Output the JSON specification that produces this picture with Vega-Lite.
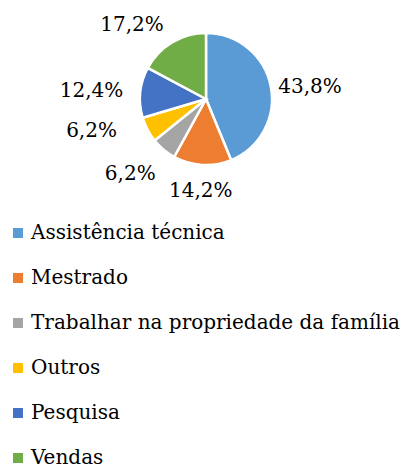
{
  "$schema": "https://vega.github.io/schema/vega-lite/v6.json",
  "width": 412,
  "height": 198,
  "padding": {"left": 0, "top": 0, "right": 1, "bottom": 270},
  "autosize": {"type": "none"},
  "background": "white",
  "config": {"view": {"stroke": null}},
  "data": {"values": [
    {"idx": 1, "cat": "Assistência técnica", "pct": 43.8, "label": "43,8%"},
    {"idx": 2, "cat": "Mestrado", "pct": 14.2, "label": "14,2%"},
    {"idx": 3, "cat": "Trabalhar na propriedade da família", "pct": 6.2, "label": "6,2%"},
    {"idx": 4, "cat": "Outros", "pct": 6.2, "label": "6,2%"},
    {"idx": 5, "cat": "Pesquisa", "pct": 12.4, "label": "12,4%"},
    {"idx": 6, "cat": "Vendas", "pct": 17.2, "label": "17,2%"}
  ]},
  "encoding": {
    "theta": {"field": "pct", "type": "quantitative", "stack": true},
    "order": {"field": "idx", "type": "quantitative", "sort": "ascending"}
  },
  "layer": [
    {
      "mark": {"type": "arc", "outerRadius": 66, "stroke": "white", "strokeWidth": 2.5},
      "encoding": {
        "color": {
          "field": "cat", "type": "nominal",
          "scale": {
            "domain": ["Assistência técnica", "Mestrado", "Trabalhar na propriedade da família", "Outros", "Pesquisa", "Vendas"],
            "range": ["#5B9BD5", "#ED7D31", "#A5A5A5", "#FFC000", "#4472C4", "#70AD47"]
          },
          "legend": {
            "title": null,
            "orient": "none",
            "legendX": 8,
            "legendY": 223,
            "direction": "vertical",
            "padding": 0,
            "symbolType": "square",
            "symbolSize": 100,
            "symbolStrokeWidth": 0,
            "labelFont": "DejaVu Serif",
            "labelFontSize": 20,
            "labelColor": "black",
            "labelOffset": 3,
            "labelLimit": 500,
            "rowPadding": 25
          }
        }
      }
    },
    {
      "mark": {"type": "text", "radius": 106, "dy": 9, "font": "DejaVu Serif", "fontSize": 20, "color": "black"},
      "encoding": {"text": {"condition": {"test": "datum.idx === 1", "field": "label"}, "value": ""}}
    },
    {
      "mark": {"type": "text", "radius": 92, "font": "DejaVu Serif", "fontSize": 20, "color": "black"},
      "encoding": {"text": {"condition": {"test": "datum.idx === 2", "field": "label"}, "value": ""}}
    },
    {
      "mark": {"type": "text", "radius": 107, "dx": -7, "dy": -7, "font": "DejaVu Serif", "fontSize": 20, "color": "black"},
      "encoding": {"text": {"condition": {"test": "datum.idx === 3", "field": "label"}, "value": ""}}
    },
    {
      "mark": {"type": "text", "radius": 118, "dx": -10, "dy": -23, "font": "DejaVu Serif", "fontSize": 20, "color": "black"},
      "encoding": {"text": {"condition": {"test": "datum.idx === 4", "field": "label"}, "value": ""}}
    },
    {
      "mark": {"type": "text", "radius": 113, "dx": -2, "dy": 3, "font": "DejaVu Serif", "fontSize": 20, "color": "black"},
      "encoding": {"text": {"condition": {"test": "datum.idx === 5", "field": "label"}, "value": ""}}
    },
    {
      "mark": {"type": "text", "radius": 105, "dx": -20, "dy": 16, "font": "DejaVu Serif", "fontSize": 20, "color": "black"},
      "encoding": {"text": {"condition": {"test": "datum.idx === 6", "field": "label"}, "value": ""}}
    }
  ]
}
